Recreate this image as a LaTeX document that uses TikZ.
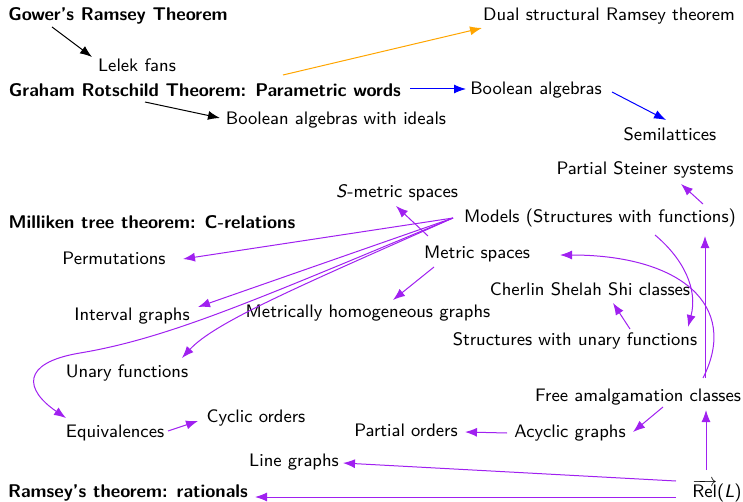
\documentclass[tikz,border=0pt]{standalone}
\usetikzlibrary{arrows.meta}
\definecolor{purp}{RGB}{160,32,240}
\definecolor{orng}{RGB}{255,165,0}
\definecolor{blu}{RGB}{0,0,255}
\begin{document}
\begin{tikzpicture}[x=0.5pt,y=-0.5pt,
  lbl/.style={font=\sffamily\fontsize{9.05}{11}\selectfont, inner sep=0pt},
  thm/.style={font=\sffamily\bfseries\fontsize{9.2}{11}\selectfont, inner sep=0pt},
  arr/.style={-{Latex[length=6pt,width=4.5pt]}, line width=0.5pt},
  pu/.style={arr, draw=purp},
  bk/.style={arr, draw=black},
  bl/.style={arr, draw=blu},
  og/.style={arr, draw=orng}]
\useasboundingbox (0,0) rectangle (743,502);
% nodes
\node[thm] (gower) at (118,16) {Gower's Ramsey Theorem};
\node[lbl] (lelek) at (137,65) {Lelek fans};
\node[lbl] (dual) at (609,16) {Dual structural Ramsey theorem};
\node[thm] (graham) at (205,90) {Graham Rotschild Theorem: Parametric words};
\node[lbl] (bool) at (536,90) {Boolean algebras};
\node[lbl] (boolid) at (336,120) {Boolean algebras with ideals};
\node[lbl] (semi) at (670,134) {Semilattices};
\node[lbl] (steiner) at (645,170) {Partial Steiner systems};
\node[lbl] (smetric) at (397,193) {\textit{S}-metric spaces};
\node[lbl] (models) at (600,218) {Models (Structures with functions)};
\node[thm] (milliken) at (152,222) {Milliken tree theorem: C-relations};
\node[lbl] (perm) at (114,258) {Permutations};
\node[lbl] (metric) at (477,254) {Metric spaces};
\node[lbl] (cherlin) at (590,289) {Cherlin Shelah Shi classes};
\node[lbl] (interval) at (132,316) {Interval graphs};
\node[lbl] (mhg) at (368,313) {Metrically homogeneous graphs};
\node[lbl] (sunary) at (575,341) {Structures with unary functions};
\node[lbl] (unary) at (127,373) {Unary functions};
\node[lbl] (free) at (638,397) {Free amalgamation classes};
\node[lbl] (cyclic) at (256,418) {Cyclic orders};
\node[lbl] (equiv) at (115,433) {Equivalences};
\node[lbl] (porders) at (406,430) {Partial orders};
\node[lbl] (acyclic) at (570,433) {Acyclic graphs};
\node[lbl] (line) at (294,462) {Line graphs};
\node[thm] (rational) at (128,493) {Ramsey's theorem: rationals};
\node[lbl] (rel) at (717,491) {$\overrightarrow{\textsf{Rel}}$(\textit{L})};
% edges
\draw[bk] ([shift={(-66,11)}]gower.center) -- ([shift={(-45,-8)}]lelek.center);
\draw[og] ([shift={(78,-15)}]graham.center) -- ([shift={(-127,12)}]dual.center);
\draw[bl] ([shift={(205,-1)}]graham.center) -- ([shift={(-70,-1)}]bool.center);
\draw[bk] ([shift={(-60,12)}]graham.center) -- ([shift={(-116,-2)}]boolid.center);
\draw[bl] ([shift={(76,2)}]bool.center) -- ([shift={(-4,-14)}]semi.center);
\draw[pu] ([shift={(103,-14)}]models.center) -- ([shift={(36,14)}]steiner.center);
\draw[pu] ([shift={(-49,-18)}]metric.center) -- ([shift={(-1,13)}]smetric.center);
\draw[pu] ([shift={(-147,0)}]models.center) -- ([shift={(69,1)}]perm.center);
\draw[pu] ([shift={(-147,0)}]models.center) -- ([shift={(66,-9)}]interval.center);
\draw[pu] ([shift={(-147,0)}]models.center) .. controls (300,286) and (215,322) .. ([shift={(55,-15)}]unary.center);
\draw[pu] ([shift={(-147,0)}]models.center) .. controls (260,298) and (170,338) .. (80,353)
  .. controls (20,363) and (25,390) .. ([shift={(-49,-15)}]equiv.center);
\draw[pu] ([shift={(-43,13)}]metric.center) -- ([shift={(25,-13)}]mhg.center);
\draw[pu] ([shift={(55,-12)}]sunary.center) -- ([shift={(23,14)}]cherlin.center);
\draw[pu] ([shift={(55,17)}]models.center) to[out=-40,in=75] ([shift={(113,-14)}]sunary.center);
\draw[pu] ([shift={(67,-19)}]free.center) -- ([shift={(105,18)}]models.center);
\draw[pu] ([shift={(65,-19)}]free.center) .. controls (740,305) and (680,255) .. ([shift={(83,1)}]metric.center);
\draw[pu] ([shift={(25,10)}]free.center) -- ([shift={(63,-1)}]acyclic.center);
\draw[pu] ([shift={(-63,0)}]acyclic.center) -- ([shift={(59,2)}]porders.center);
\draw[pu] ([shift={(53,-2)}]equiv.center) -- ([shift={(-58,3)}]cyclic.center);
\draw[pu] ([shift={(-11,-21)}]rel.center) -- ([shift={(68,13)}]free.center);
\draw[pu] ([shift={(-41,-10)}]rel.center) -- ([shift={(49,1)}]line.center);
\draw[pu] ([shift={(-41,6)}]rel.center) -- ([shift={(127,4)}]rational.center);
\end{tikzpicture}
\end{document}
